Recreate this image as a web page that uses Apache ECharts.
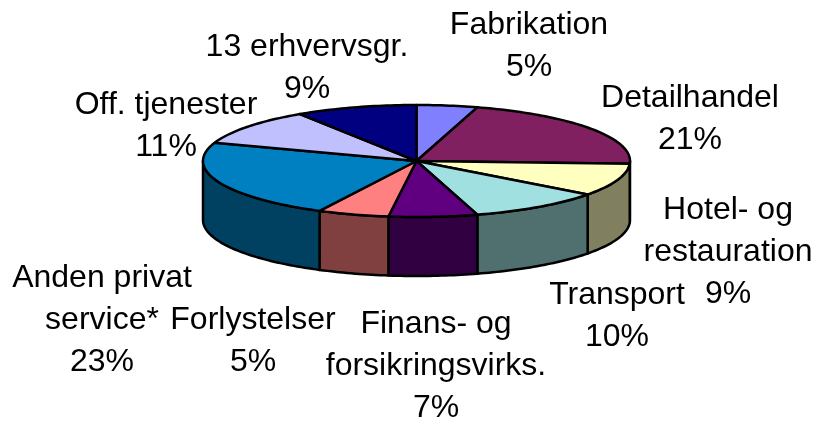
<!DOCTYPE html>
<html>
<head>
<meta charset="utf-8">
<style>
  html, body { margin: 0; padding: 0; background: #fff; }
  #chart { width: 817px; height: 424px; }
</style>
</head>
<body>
<div id="chart"></div>
<script src="https://cdn.jsdelivr.net/npm/echarts@6/dist/echarts.min.js"></script>
<script>
// clockwise from 12 o'clock, shares
var names = ["Fabrikation", "Detailhandel", "Hotel- og\nrestauration", "Transport", "Finans- og\nforsikringsvirks.", "Forlystelser", "Anden privat\nservice*", "Off. tjenester", "13 erhvervsgr."];
var values = [4.6, 21.2, 9.4, 10.2, 6.7, 5.4, 22.8, 10.5, 9.2];
var topColors = ["#8080FF", "#802060", "#FFFFC0", "#A0E0E0", "#600080", "#FF8080", "#0080C0", "#C0C0FF", "#000080"];
var sideColors = ["#404080", "#401030", "#808060", "#507070", "#300040", "#804040", "#004060", "#606080", "#000040"];

var cx = 416.5, cy = 161, rx = 213.5, ry = 56, depth = 59;
// label centre: x, y of the first line's middle
var labelPos = [[529, 25], [690, 98], [728, 210], [617, 295], [436, 324], [253, 320], [102, 278], [166, 105], [307, 47]];
var lineH = 42;

var starts = [];
values.reduce(function (sum, v, i) { starts[i] = sum; return sum + v; }, 0);
var total = values.reduce(function (a, b) { return a + b; }, 0);

function rimPoint(t, dy) {
  return [cx + rx * Math.sin(t), cy - ry * Math.cos(t) + dy];
}

function arcPoints(t0, t1, dy) {
  var n = Math.max(2, Math.ceil(Math.abs(t1 - t0) / 0.02));
  var pts = [];
  for (var i = 0; i <= n; i++) {
    pts.push(rimPoint(t0 + (t1 - t0) * i / n, dy));
  }
  return pts;
}

function renderSlice(params, api) {
  var i = params.dataIndex;
  var t0 = starts[i] / total * 2 * Math.PI;
  var t1 = t0 + api.value(0) / total * 2 * Math.PI;
  var children = [];

  // only the front half of the rim shows a wall
  var w0 = Math.max(t0, Math.PI / 2), w1 = Math.min(t1, Math.PI * 1.5);
  if (w1 > w0) {
    children.push({
      type: "polygon",
      shape: { points: arcPoints(w0, w1, 0).concat(arcPoints(w1, w0, depth)) },
      style: { fill: sideColors[i], stroke: "#000", lineWidth: 2.5, lineJoin: "round" }
    });
  }
  children.push({
    type: "polygon",
    shape: { points: [[cx, cy]].concat(arcPoints(t0, t1, 0)) },
    style: { fill: topColors[i], stroke: "#000", lineWidth: 2.5, lineJoin: "round" }
  });
  children.push({
    type: "text",
    z2: 10,
    style: {
      x: labelPos[i][0],
      y: labelPos[i][1] - lineH / 2,
      text: names[i] + "\n" + Math.round(api.value(0)) + "%",
      fontFamily: "Liberation Sans",
      fontSize: 32,
      lineHeight: lineH,
      fill: "#000",
      align: "center",
      verticalAlign: "top"
    }
  });
  return { type: "group", children: children };
}

var chart = echarts.init(document.getElementById("chart"), null, { renderer: "canvas" });
chart.setOption({
  animation: false,
  backgroundColor: "#fff",
  series: [{
    type: "custom",
    coordinateSystem: "none",
    renderItem: renderSlice,
    data: values.map(function (v, i) { return { name: names[i], value: [v] }; })
  }]
});
</script>
</body>
</html>
